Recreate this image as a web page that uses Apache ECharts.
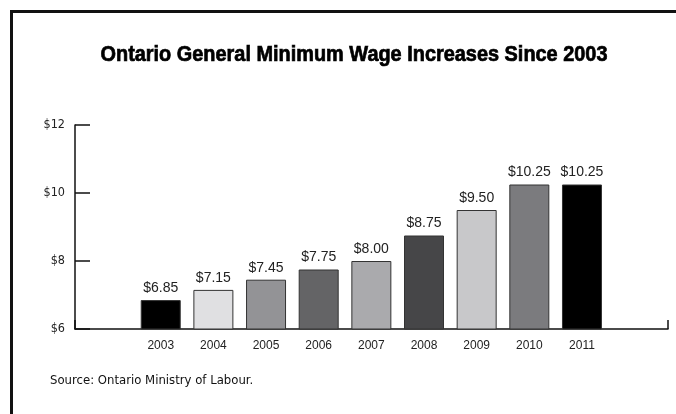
<!DOCTYPE html>
<html>
<head>
<meta charset="utf-8">
<script src="https://cdn.jsdelivr.net/npm/echarts@6/dist/echarts.min.js"></script>
<style>
html,body{margin:0;padding:0;background:#fff;}
#c{width:676px;height:414px;}
</style>
</head>
<body>
<div id="c"></div>
<script>
var years = ['2003','2004','2005','2006','2007','2008','2009','2010','2011'];
var wages = [6.85, 7.15, 7.45, 7.75, 8.00, 8.75, 9.50, 10.25, 10.25];
var yTicks = [6, 8, 10, 12];
var barColors = ['#000000','#e0e0e2','#939396','#646466','#aaaaad','#464648','#c8c8ca','#7b7b7e','#000000'];
var titleText = 'Ontario General Minimum Wage Increases Since 2003';
var sourceText = 'Source: Ontario Ministry of Labour.';

var narrow = '"DejaVu Sans Condensed","Liberation Sans",sans-serif';
var titleFont = 'bold 22px "Liberation Sans", Arial, sans-serif';
var mctx = document.createElement('canvas').getContext('2d');
mctx.font = titleFont;
var titleScale = 507 / mctx.measureText(titleText).width;

var chart = echarts.init(document.getElementById('c'));
chart.setOption({
  animation: false,
  backgroundColor: '#fff',
  graphic: [
    {type: 'line', shape: {x1: 11.5, y1: 11.5, x2: 676, y2: 11.5}, style: {stroke: '#111', lineWidth: 3}},
    {type: 'line', shape: {x1: 11.5, y1: 10, x2: 11.5, y2: 414}, style: {stroke: '#111', lineWidth: 3}},
    {type: 'text', x: 354, y: 54.5, scaleX: titleScale, originX: 0, originY: 0,
     style: {text: titleText, font: titleFont, fill: '#000', stroke: '#000', lineWidth: 0.7,
             textAlign: 'center', textVerticalAlign: 'middle'}},
    {type: 'text', left: 50, top: 374, style: {text: sourceText, fontFamily: narrow, fontSize: 13, fill: '#111'}}
  ],
  grid: [
    {left: 75, right: 8, top: 125, bottom: 85},
    {left: 134.4, right: 67.7, top: 125, bottom: 85}
  ],
  xAxis: [
    {gridIndex: 0, type: 'value', min: 0, max: 1, interval: 1,
     axisLine: {show: true, onZero: false, lineStyle: {color: '#111', width: 1.5}},
     axisTick: {show: true, inside: true, length: 9, lineStyle: {color: '#111', width: 1.5}},
     axisLabel: {show: false}, splitLine: {show: false}},
    {gridIndex: 1, type: 'category', data: years,
     axisLine: {show: false}, axisTick: {show: false},
     axisLabel: {margin: 11, fontFamily: '"Liberation Sans",Arial,sans-serif', fontSize: 12, color: '#222'}}
  ],
  yAxis: [
    {gridIndex: 0, type: 'value', min: yTicks[0], max: yTicks[yTicks.length-1], interval: 2,
     axisLine: {show: true, lineStyle: {color: '#111', width: 1.5}},
     axisTick: {show: true, inside: true, length: 15, lineStyle: {color: '#111', width: 1.5}},
     axisLabel: {margin: 10, formatter: function(v){ return '$' + v; }, fontFamily: narrow, fontSize: 12.5, color: '#222'},
     splitLine: {show: false}},
    {gridIndex: 1, type: 'value', min: yTicks[0], max: yTicks[yTicks.length-1], show: false}
  ],
  series: [{
    type: 'bar', xAxisIndex: 1, yAxisIndex: 1,
    barWidth: 40,
    data: wages.map(function(v, i){ return {value: v, itemStyle: {color: barColors[i]}}; }),
    itemStyle: {borderColor: '#333', borderWidth: 1},
    label: {show: true, position: 'top', distance: 5,
      formatter: function(p){ return '$' + p.value.toFixed(2); },
      fontFamily: '"Liberation Sans",Arial,sans-serif', fontSize: 14, color: '#222'}
  }]
});
</script>
</body>
</html>
